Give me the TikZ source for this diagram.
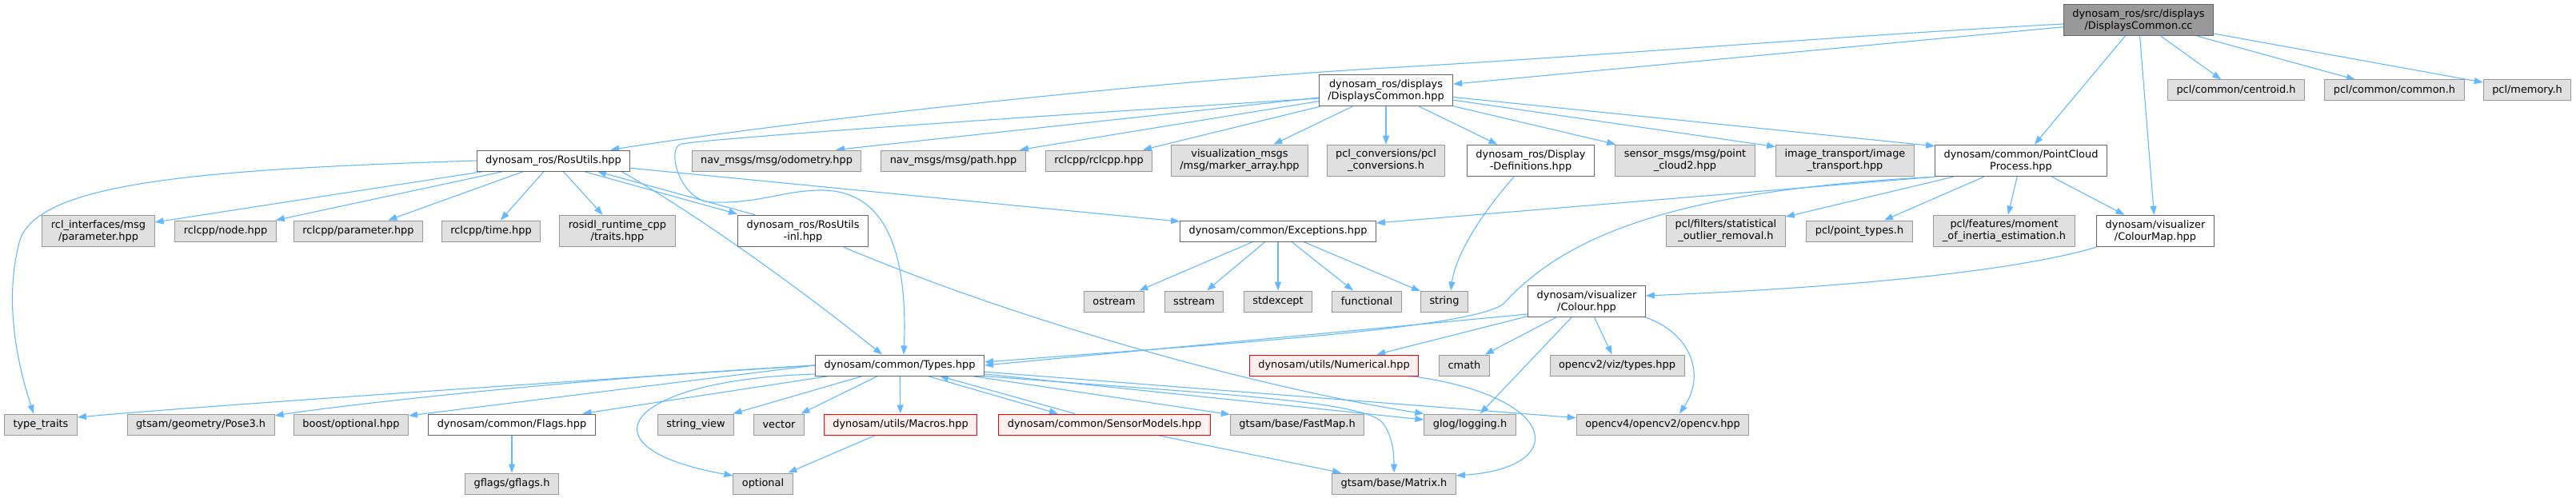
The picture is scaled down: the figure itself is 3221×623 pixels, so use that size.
\documentclass[tikz,border=0pt]{standalone}
\usepackage{fontspec}
\setmainfont{DejaVu Sans}
\usetikzlibrary{arrows.meta}
\pgfdeclarelayer{edges}
\pgfsetlayers{edges,main}
\tikzset{
  file/.style={rectangle, draw={rgb,255:red,102;green,102;blue,102}, line width=1pt,
    fill=white, minimum height=26pt, inner xsep=11pt, inner ysep=6pt,
    align=center, font=\fontsize{12.9}{15}\selectfont},
  sys/.style={file, draw={rgb,255:red,153;green,153;blue,153},
    fill={rgb,255:red,224;green,224;blue,224}},
  root/.style={file, fill={rgb,255:red,153;green,153;blue,153}},
  miss/.style={file, draw={rgb,255:red,255;green,0;blue,0},
    fill={rgb,255:red,255;green,240;blue,240}},
  ar/.style={-{Triangle[length=11pt,width=8pt]}, line width=1.1pt,
    draw={rgb,255:red,99;green,184;blue,255}},
}

\begin{document}
\begin{tikzpicture}[x=1pt, y=-1pt]
\useasboundingbox (0,0) rectangle (3221,623);

% ===================== FILES =====================
\node[root] (cc) at (2674,25) {dynosam\_ros/src/displays\\/DisplaysCommon.cc};

\node[file] (dch)       at (1733,113) {dynosam\_ros/displays\\/DisplaysCommon.hpp};
\node[sys]  (centroid)  at (2796,113) {pcl/common/centroid.h};
\node[sys]  (pclcommon) at (2994,113) {pcl/common/common.h};
\node[sys]  (pclmemory) at (3160,113) {pcl/memory.h};

\node[file] (rosutils) at (692,201)  {dynosam\_ros/RosUtils.hpp};
\node[sys]  (odom)     at (971,201)  {nav\_msgs/msg/odometry.hpp};
\node[sys]  (navpath)  at (1192,201) {nav\_msgs/msg/path.hpp};
\node[sys]  (rclcpp)   at (1374,201) {rclcpp/rclcpp.hpp};
\node[sys]  (markers)  at (1550,201) {visualization\_msgs\\/msg/marker\_array.hpp};
\node[sys]  (pclconv)  at (1733,201) {pcl\_conversions/pcl\\\_conversions.h};
\node[file] (dispdef)  at (1914,201) {dynosam\_ros/Display\\-Definitions.hpp};
\node[sys]  (cloud2)   at (2107,201) {sensor\_msgs/msg/point\\\_cloud2.hpp};
\node[sys]  (imgtr)    at (2307,201) {image\_transport/image\\\_transport.hpp};
\node[file] (pcp)      at (2527,201) {dynosam/common/PointCloud\\Process.hpp};

\node[sys]  (rclparam) at (123,289)  {rcl\_interfaces/msg\\/parameter.hpp};
\node[sys]  (rclnode)  at (282,289)  {rclcpp/node.hpp};
\node[sys]  (rclpar)   at (448,289)  {rclcpp/parameter.hpp};
\node[sys]  (rcltime)  at (614,289)  {rclcpp/time.hpp};
\node[sys]  (traits)   at (772,289)  {rosidl\_runtime\_cpp\\/traits.hpp};
\node[file] (inl)      at (1004,289) {dynosam\_ros/RosUtils\\-inl.hpp};
\node[file] (except)   at (1598,289) {dynosam/common/Exceptions.hpp};
\node[sys]  (outlier)  at (2158,289) {pcl/filters/statistical\\\_outlier\_removal.h};
\node[sys]  (ptypes)   at (2325,289) {pcl/point\_types.h};
\node[sys]  (moment)   at (2506,289) {pcl/features/moment\\\_of\_inertia\_estimation.h};
\node[file] (cmap)     at (2695,289) {dynosam/visualizer\\/ColourMap.hpp};

\node[sys]  (ostream)    at (1393,377) {ostream};
\node[sys]  (sstream)    at (1493,377) {sstream};
\node[sys]  (stdexcept)  at (1598,377) {stdexcept};
\node[sys]  (functional) at (1709,377) {functional};
\node[sys]  (string)     at (1806,377) {string};
\node[file] (colour)     at (1984,377) {dynosam/visualizer\\/Colour.hpp};

\node[file] (types)     at (1125,457) {dynosam/common/Types.hpp};
\node[miss] (numerical) at (1668,457) {dynosam/utils/Numerical.hpp};
\node[sys]  (cmath)     at (1831,457) {cmath};
\node[sys]  (viztypes)  at (2022,457) {opencv2/viz/types.hpp};

\node[sys]  (typetraits) at (51,531)   {type\_traits};
\node[sys]  (pose3)      at (251,531)  {gtsam/geometry/Pose3.h};
\node[sys]  (boostopt)   at (439,531)  {boost/optional.hpp};
\node[file] (flags)      at (640,531)  {dynosam/common/Flags.hpp};
\node[sys]  (strview)    at (870,531)  {string\_view};
\node[sys]  (vector)     at (974,531)  {vector};
\node[miss] (macros)     at (1126,531) {dynosam/utils/Macros.hpp};
\node[miss] (sensors)    at (1381,531) {dynosam/common/SensorModels.hpp};
\node[sys]  (fastmap)    at (1622,531) {gtsam/base/FastMap.h};
\node[sys]  (glog)       at (1838,531) {glog/logging.h};
\node[sys]  (opencv)     at (2079,531) {opencv4/opencv2/opencv.hpp};

\node[sys]  (gflags)   at (640,605)  {gflags/gflags.h};
\node[sys]  (optional) at (954,605)  {optional};
\node[sys]  (matrix)   at (1743,605) {gtsam/base/Matrix.h};

% ===================== INCLUDES =====================
\begin{pgfonlayer}{edges}
% DisplaysCommon.cc
\draw[ar] (cc) -- (dch);
\draw[ar] ([yshift=-5pt]cc.west) .. controls (2300,45) and (2000,70) .. (1733,85)
  .. controls (1450,101) and (1000,150) .. ([xshift=-25pt]rosutils.north east);
\draw[ar] (cc) -- (pcp);
\draw[ar] (cc) -- (cmap);
\draw[ar] (cc) -- (centroid);
\draw[ar] (cc) -- (pclcommon);
\draw[ar] (cc) -- (pclmemory);

% DisplaysCommon.hpp
\draw[ar] (dch) -- ([xshift=74pt]odom.north);
\draw[ar] (dch) -- (navpath);
\draw[ar] (dch) -- (rclcpp);
\draw[ar] (dch) -- (markers);
\draw[ar] (dch) -- (pclconv);
\draw[ar] (dch) -- (dispdef);
\draw[ar] (dch) -- (cloud2);
\draw[ar] (dch) -- ([yshift=-3pt]imgtr.north west);
\draw[ar] (dch) -- ([yshift=-2pt]pcp.north west);
\draw[ar] ([yshift=-10pt]dch.west) .. controls (1300,145) and (900,172) .. (852,180)
  .. controls (832,184) and (850,252) .. (890,253)
  .. controls (950,255) and (980,238) .. (1027,238)
  .. controls (1110,238) and (1135,320) .. ([xshift=5pt]types.north);

% RosUtils.hpp
\draw[ar] (rosutils.west) .. controls (250,212) and (50,228) .. (25,300)
  .. controls (5,372) and (20,450) .. ([xshift=-9pt]typetraits.north);
\draw[ar] (rosutils) -- (rclparam);
\draw[ar] (rosutils) -- (rclnode);
\draw[ar] (rosutils) -- (rclpar);
\draw[ar] (rosutils) -- (rcltime);
\draw[ar] (rosutils) -- (traits);
\draw[ar] ([xshift=38pt]rosutils.south) -- ([yshift=1pt]inl.north west);
\draw[ar] ([xshift=22pt]inl.north west) -- ([xshift=55pt]rosutils.south);
\draw[ar] (rosutils) -- (except);
\draw[ar] ([xshift=85pt]rosutils.south) .. controls (860,262) and (980,345) .. ([xshift=-22pt]types.north);
\draw[ar] ([xshift=51pt]inl.south) .. controls (1300,412) and (1600,490) .. (glog.north west);

% Display-Definitions.hpp, Exceptions.hpp
\draw[ar] ([xshift=-21pt]dispdef.south) .. controls (1850,270) and (1820,320) .. ([xshift=8pt]string.north);
\draw[ar] (except) -- (ostream);
\draw[ar] (except) -- (sstream);
\draw[ar] (except) -- (stdexcept);
\draw[ar] (except) -- (functional);
\draw[ar] (except) -- (string);

% PointCloudProcess.hpp
\draw[ar] (pcp.south west) -- ([yshift=10pt]except.east);
\draw[ar] (pcp.south west) .. controls (2100,238) and (1960,292) .. (1880,380)
  .. controls (1840,412) and (1500,432) .. ([yshift=4pt]types.east);
\draw[ar] (pcp) -- (outlier);
\draw[ar] (pcp) -- (ptypes);
\draw[ar] (pcp) -- (moment);
\draw[ar] (pcp) -- (cmap);

% ColourMap.hpp, Colour.hpp
\draw[ar] (cmap.south west) .. controls (2500,345) and (2250,362) .. ([yshift=7pt]colour.east);
\draw[ar] ([yshift=-16pt]colour.west) -- (types.east);
\draw[ar] (colour) -- (numerical);
\draw[ar] (colour) -- (cmath);
\draw[ar] (colour) -- (viztypes);
\draw[ar] (colour) -- (glog);
\draw[ar] (colour.south east) .. controls (2110,415) and (2135,465) .. ([xshift=21pt]opencv.north);

% Types.hpp
\draw[ar] (types.west) .. controls (700,478) and (250,508) .. ([yshift=9pt]typetraits.east);
\draw[ar] (types.west) .. controls (700,475) and (420,508) .. ([yshift=11pt]pose3.east);
\draw[ar] (types.west) -- ([yshift=11pt]boostopt.east);
\draw[ar] (types) -- (flags);
\draw[ar] (types) -- (strview);
\draw[ar] (types) -- (vector);
\draw[ar] ([yshift=-11pt]types.west) .. controls (780,475) and (720,560) .. ([yshift=10pt]optional.west);
\draw[ar] (types) -- (macros);
\draw[ar] ([xshift=35pt]types.south) -- ([xshift=-58pt]sensors.north);
\draw[ar] ([xshift=-37pt]sensors.north) -- ([xshift=50pt]types.south);
\draw[ar] (types) -- (fastmap);
\draw[ar] (types) -- (glog);
\draw[ar] (types) -- (opencv);
\draw[ar] (types.south east) .. controls (1500,492) and (1700,500) .. (1728,528)
  .. controls (1742,545) and (1743,570) .. (matrix.north);

% leaves
\draw[ar] (flags) -- (gflags);
\draw[ar] (macros) -- (optional);
\draw[ar] (sensors) -- (matrix);
\draw[ar] ([xshift=96pt]numerical.south) .. controls (1950,495) and (1965,585) .. ([yshift=10pt]matrix.east);
\end{pgfonlayer}

\end{tikzpicture}
\end{document}
